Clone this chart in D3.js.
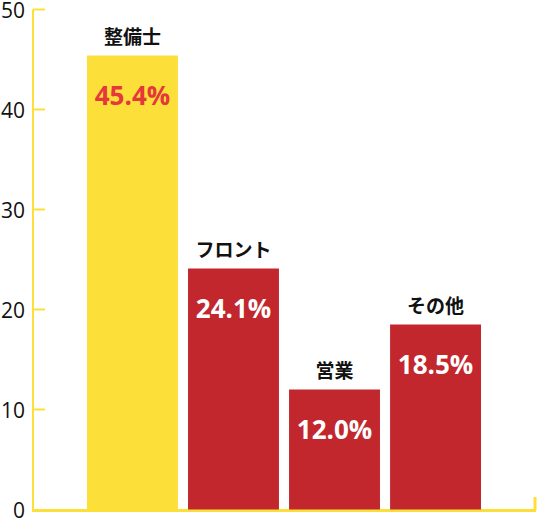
<!DOCTYPE html>
<html><head><meta charset="utf-8">
<script src="https://cdn.jsdelivr.net/npm/d3@7"></script>
<style>body{margin:0;background:#fff}svg{display:block}</style>
</head><body>
<svg id="c" width="543" height="528"></svg>
<script>
const categories = ["整備士", "フロント", "営業", "その他"];
const values = [45.4, 24.1, 12.0, 18.5];
const valueLabels = ["45.4%", "24.1%", "12.0%", "18.5%"];
const yTicks = [0, 10, 20, 30, 40, 50];

const svg = d3.select("#c");
const yellow = "#FDDF3A", red = "#C1272D";
const y = d3.scaleLinear().domain([0, 50]).range([509.5, 9.5]);
const x = d3.scaleBand().domain(categories).range([87, 481]).paddingInner(0.1).paddingOuter(0);

// axes
const axisColor = yellow;
svg.append("line").attr("x1", 33).attr("x2", 33).attr("y1", y(50)).attr("y2", y(0) + 1)
  .attr("stroke", axisColor).attr("stroke-width", 2);
svg.append("line").attr("x1", 32).attr("x2", 536).attr("y1", y(0) + 1).attr("y2", y(0) + 1)
  .attr("stroke", axisColor).attr("stroke-width", 3);
svg.append("line").attr("x1", 535).attr("x2", 535).attr("y1", 497).attr("y2", y(0) + 1)
  .attr("stroke", axisColor).attr("stroke-width", 3);
yTicks.forEach(t => {
  if (t > 0) svg.append("line").attr("x1", 33).attr("x2", 45).attr("y1", y(t)).attr("y2", y(t))
    .attr("stroke", axisColor).attr("stroke-width", 2);
  svg.append("text").attr("x", 25).attr("y", y(t) + 8).attr("text-anchor", "end")
    .attr("font-family", "'Open Sans', sans-serif").attr("font-size", 21).attr("fill", "#111").text(t);
});

// bars
svg.selectAll("rect.bar").data(values).join("rect").attr("class", "bar")
  .attr("x", (d, i) => x(categories[i])).attr("width", x.bandwidth())
  .attr("y", d => y(d)).attr("height", d => y(0) - y(d))
  .attr("fill", (d, i) => i === 0 ? yellow : red);

// value labels
svg.selectAll("text.val").data(values).join("text").attr("class", "val")
  .attr("x", (d, i) => x(categories[i]) + x.bandwidth() / 2)
  .attr("y", d => y(d) + 49).attr("text-anchor", "middle")
  .attr("font-family", "'Open Sans', sans-serif").attr("font-weight", "bold").attr("font-size", 26)
  .attr("fill", (d, i) => i === 0 ? "#E5383B" : "#fff")
  .text((d, i) => valueLabels[i]);

// category labels
svg.selectAll("text.cat").data(values).join("text").attr("class", "cat")
  .attr("x", (d, i) => x(categories[i]) + x.bandwidth() / 2)
  .attr("y", d => y(d) - 12).attr("text-anchor", "middle")
  .attr("font-family", "'Noto Sans CJK JP', sans-serif").attr("font-weight", "bold").attr("font-size", 19)
  .attr("fill", "#111")
  .text((d, i) => categories[i]);
</script>
</body></html>
